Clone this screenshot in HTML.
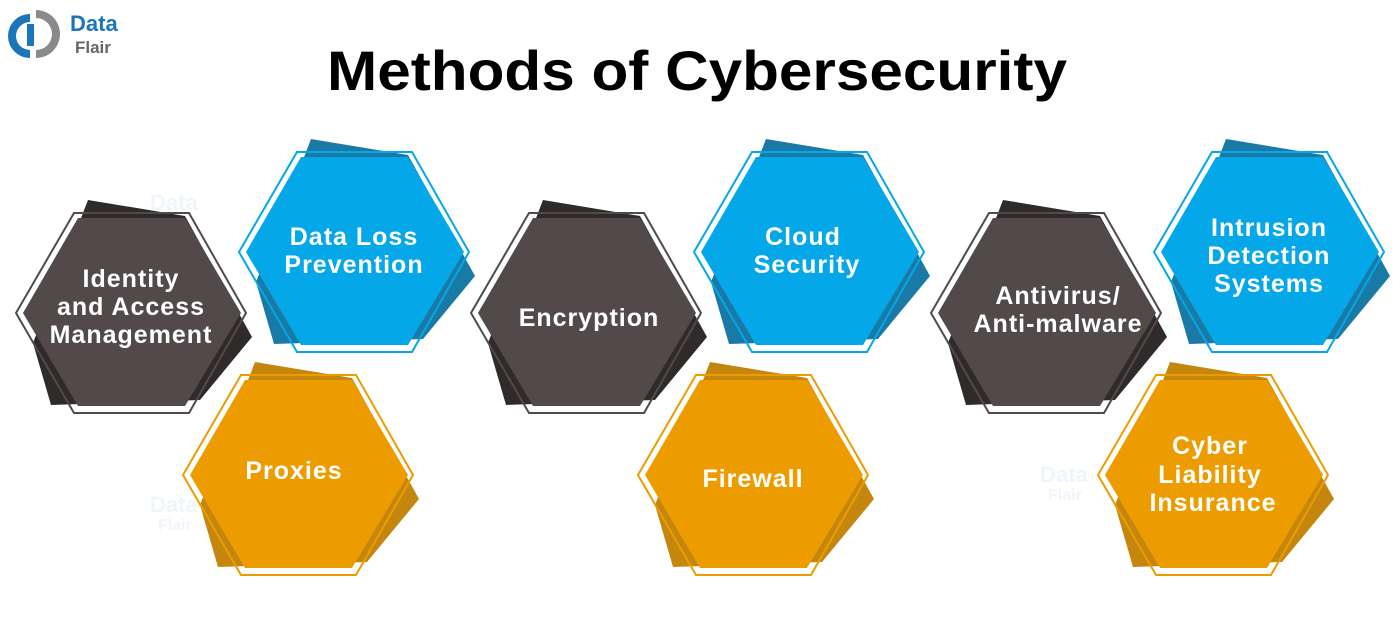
<!DOCTYPE html>
<html><head><meta charset="utf-8"><style>
html,body{margin:0;padding:0;background:#fff;width:1400px;height:628px;overflow:hidden}
svg{display:block}
text{font-family:"Liberation Sans",sans-serif;font-weight:bold}
</style></head><body>
<svg width="1400" height="628" viewBox="0 0 1400 628" xmlns="http://www.w3.org/2000/svg">
<defs>
<g id="sh"><polygon points="-43,-113 54,-97 121,24 69,87 -80,92 -98,30"/></g>
<g id="fl"><polygon points="-53,-95 54,-95 110,0 54,93 -53,93 -108,0"/></g>
<g id="ol"><polygon points="-57,-100 58,-100 115,0 58,100 -57,100 -115,0" fill="none" stroke-width="2"/></g>
</defs>
<g>
<path d="M30,14 A22,22 0 0 0 30,58 L30,50 A14,14 0 0 1 30,22 Z" fill="#1b75bb"/>
<rect x="27" y="24" width="7" height="22" fill="#1b75bb"/>
<path d="M36,10 A24,24 0 0 1 36,58 L36,50 A16,16 0 0 0 36,18 Z" fill="#8a8a8a"/>
<text x="70" y="31" font-size="22" fill="#1b75bb">Data</text>
<text x="75" y="53" font-size="17" fill="#666">Flair</text>
</g>
<text x="697" y="90" font-size="56" fill="#000" text-anchor="middle" textLength="740" lengthAdjust="spacingAndGlyphs">Methods of Cybersecurity</text>
<g fill="#f0f5fb" font-size="22">
<text x="150" y="210">Data</text><text x="150" y="512">Data</text><text x="540" y="395">Data</text><text x="1040" y="482">Data</text><text x="805" y="180">Data</text>
<text x="158" y="232" font-size="16">Flair</text><text x="158" y="530" font-size="16">Flair</text><text x="1048" y="500" font-size="16">Flair</text>
</g>
<g transform="translate(131,313)"><use href="#sh" fill="#302b2b"/><use href="#fl" fill="#524a4a"/><use href="#ol" stroke="#524a4a"/></g>
<g transform="translate(586,313)"><use href="#sh" fill="#302b2b"/><use href="#fl" fill="#524a4a"/><use href="#ol" stroke="#524a4a"/></g>
<g transform="translate(1046,313)"><use href="#sh" fill="#302b2b"/><use href="#fl" fill="#524a4a"/><use href="#ol" stroke="#524a4a"/></g>
<g transform="translate(354,252)"><use href="#sh" fill="#1a7aa6"/><use href="#fl" fill="#04a7e8"/><use href="#ol" stroke="#04a7e8"/></g>
<g transform="translate(809,252)"><use href="#sh" fill="#1a7aa6"/><use href="#fl" fill="#04a7e8"/><use href="#ol" stroke="#04a7e8"/></g>
<g transform="translate(1269,252)"><use href="#sh" fill="#1a7aa6"/><use href="#fl" fill="#04a7e8"/><use href="#ol" stroke="#04a7e8"/></g>
<g transform="translate(298,475)"><use href="#sh" fill="#c5860e"/><use href="#fl" fill="#ed9c00"/><use href="#ol" stroke="#ed9c00"/></g>
<g transform="translate(753,475)"><use href="#sh" fill="#c5860e"/><use href="#fl" fill="#ed9c00"/><use href="#ol" stroke="#ed9c00"/></g>
<g transform="translate(1213,475)"><use href="#sh" fill="#c5860e"/><use href="#fl" fill="#ed9c00"/><use href="#ol" stroke="#ed9c00"/></g>
<g fill="#fff" font-size="25" text-anchor="middle" letter-spacing="1">
<text x="131" y="287">Identity</text><text x="131" y="315">and Access</text><text x="131" y="343">Management</text>
<text x="354" y="245">Data Loss</text><text x="354" y="273">Prevention</text>
<text x="589" y="326">Encryption</text>
<text x="803" y="245">Cloud</text><text x="807" y="273">Security</text>
<text x="1058" y="304">Antivirus/</text><text x="1058" y="332">Anti-malware</text>
<text x="1269" y="236">Intrusion</text><text x="1269" y="264">Detection</text><text x="1269" y="292">Systems</text>
<text x="294" y="479">Proxies</text>
<text x="753" y="487">Firewall</text>
<text x="1210" y="454">Cyber</text><text x="1210" y="483">Liability</text><text x="1213" y="511">Insurance</text>
</g>
</svg>
</body></html>
